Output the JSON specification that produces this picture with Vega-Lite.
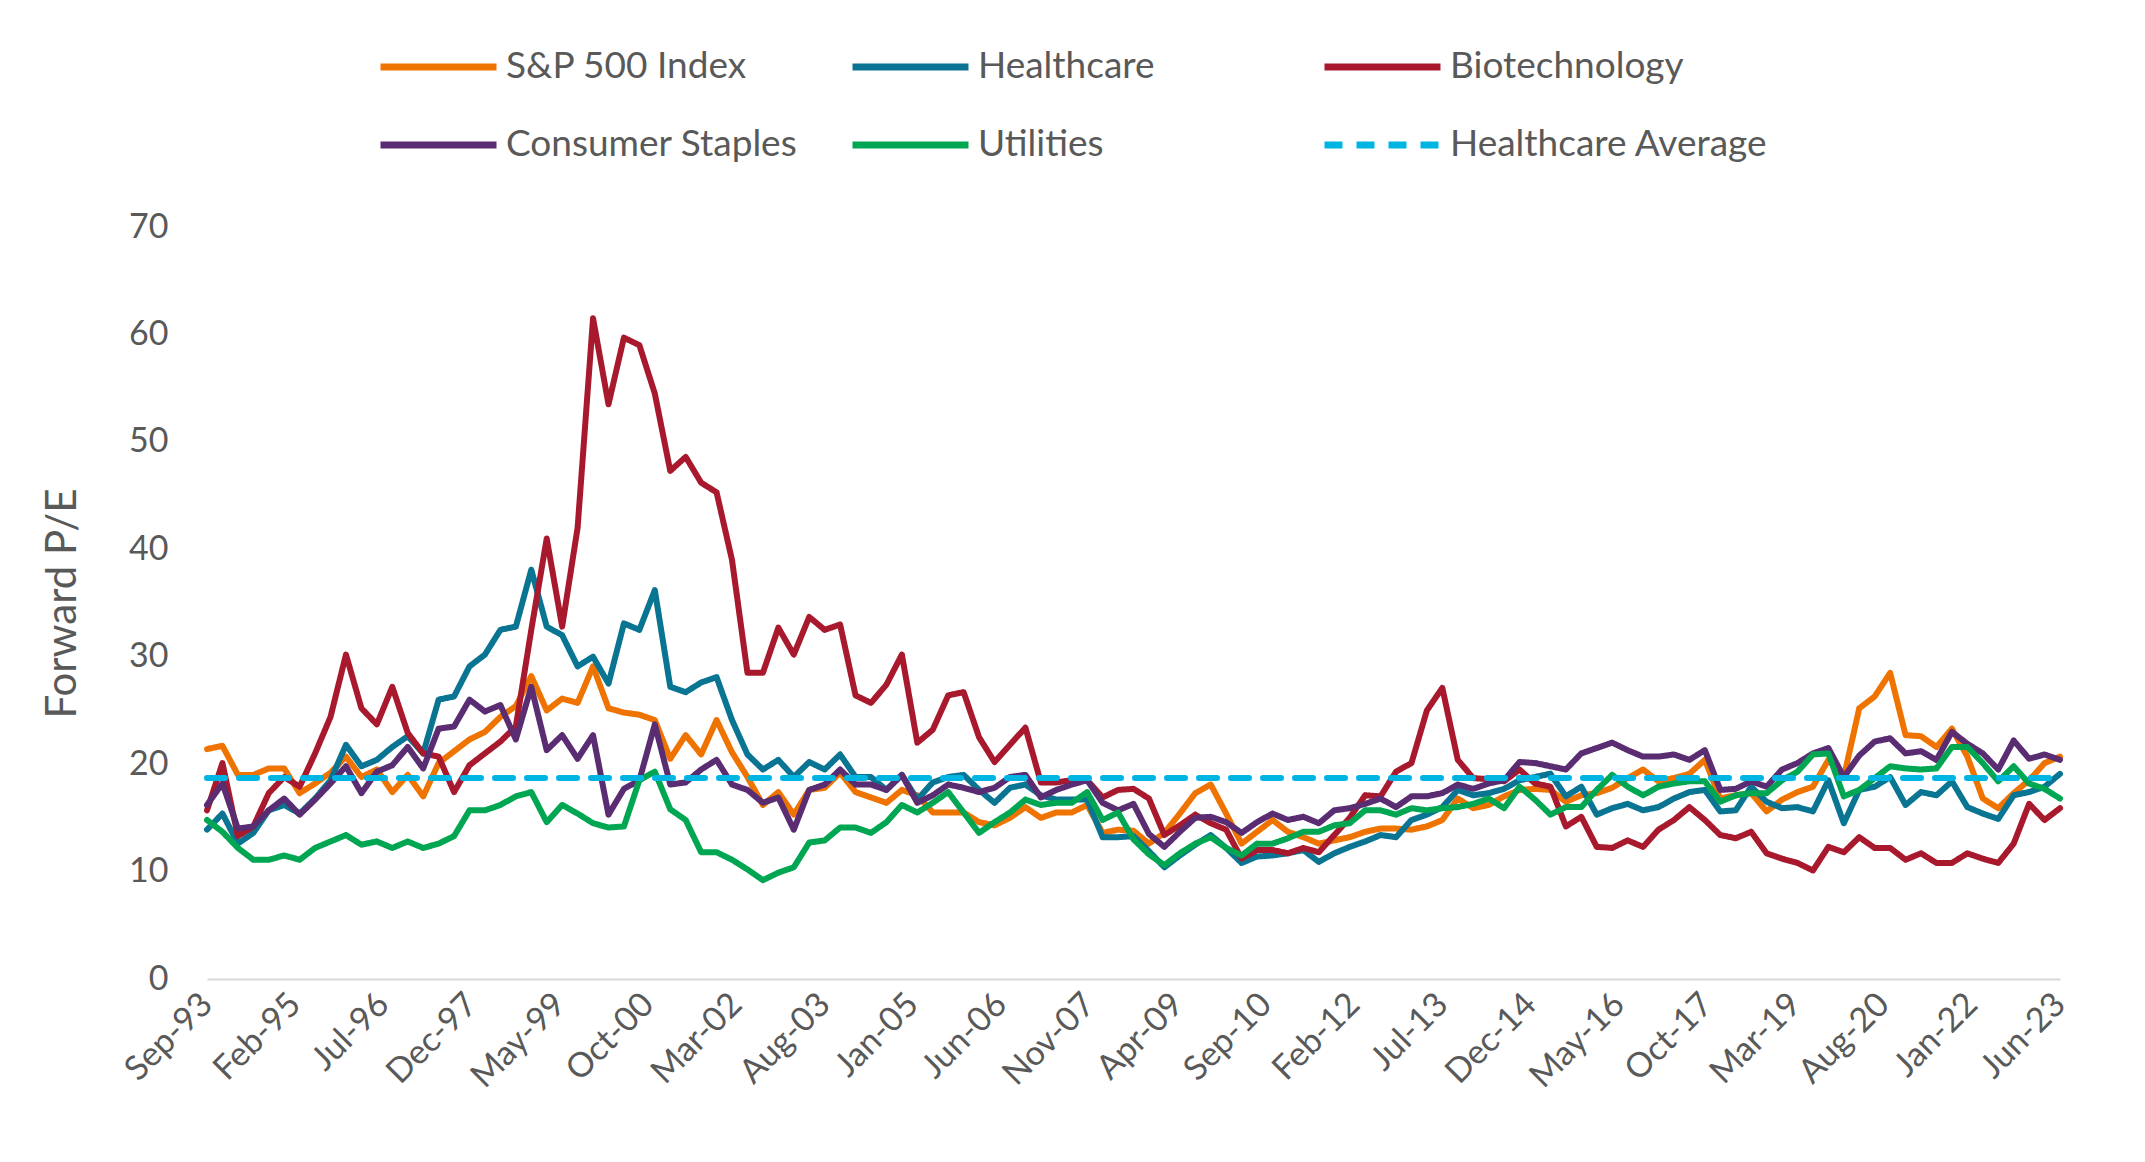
{
"$schema": "https://vega.github.io/schema/vega-lite/v6.json",
"width": 1853, "height": 752,
"autosize": {"type": "none"},
"padding": {"left": 207, "top": 227, "right": 85, "bottom": 183},
"background": "white",
"config": {"view": {"stroke": null}, "font": "Lato"},
"datasets": {"pe": [
{"series":"S&P 500 Index","q":0,"pe":21.4},{"series":"S&P 500 Index","q":1,"pe":21.7},{"series":"S&P 500 Index","q":2,"pe":19.0},{"series":"S&P 500 Index","q":3,"pe":19.0},{"series":"S&P 500 Index","q":4,"pe":19.6},{"series":"S&P 500 Index","q":5,"pe":19.6},{"series":"S&P 500 Index","q":6,"pe":17.3},{"series":"S&P 500 Index","q":7,"pe":18.2},{"series":"S&P 500 Index","q":8,"pe":19.2},{"series":"S&P 500 Index","q":9,"pe":20.7},
{"series":"S&P 500 Index","q":10,"pe":18.8},{"series":"S&P 500 Index","q":11,"pe":19.5},{"series":"S&P 500 Index","q":12,"pe":17.4},{"series":"S&P 500 Index","q":13,"pe":19.0},{"series":"S&P 500 Index","q":14,"pe":17.0},{"series":"S&P 500 Index","q":15,"pe":20.1},{"series":"S&P 500 Index","q":16,"pe":21.2},{"series":"S&P 500 Index","q":17,"pe":22.3},{"series":"S&P 500 Index","q":18,"pe":23.0},{"series":"S&P 500 Index","q":19,"pe":24.4},
{"series":"S&P 500 Index","q":20,"pe":25.4},{"series":"S&P 500 Index","q":21,"pe":28.2},{"series":"S&P 500 Index","q":22,"pe":25.0},{"series":"S&P 500 Index","q":23,"pe":26.1},{"series":"S&P 500 Index","q":24,"pe":25.7},{"series":"S&P 500 Index","q":25,"pe":29.1},{"series":"S&P 500 Index","q":26,"pe":25.2},{"series":"S&P 500 Index","q":27,"pe":24.8},{"series":"S&P 500 Index","q":28,"pe":24.6},{"series":"S&P 500 Index","q":29,"pe":24.1},
{"series":"S&P 500 Index","q":30,"pe":20.5},{"series":"S&P 500 Index","q":31,"pe":22.7},{"series":"S&P 500 Index","q":32,"pe":20.9},{"series":"S&P 500 Index","q":33,"pe":24.1},{"series":"S&P 500 Index","q":34,"pe":21.1},{"series":"S&P 500 Index","q":35,"pe":18.8},{"series":"S&P 500 Index","q":36,"pe":16.2},{"series":"S&P 500 Index","q":37,"pe":17.4},{"series":"S&P 500 Index","q":38,"pe":15.3},{"series":"S&P 500 Index","q":39,"pe":17.6},
{"series":"S&P 500 Index","q":40,"pe":17.8},{"series":"S&P 500 Index","q":41,"pe":19.2},{"series":"S&P 500 Index","q":42,"pe":17.4},{"series":"S&P 500 Index","q":43,"pe":16.9},{"series":"S&P 500 Index","q":44,"pe":16.4},{"series":"S&P 500 Index","q":45,"pe":17.6},{"series":"S&P 500 Index","q":46,"pe":17.1},{"series":"S&P 500 Index","q":47,"pe":15.5},{"series":"S&P 500 Index","q":48,"pe":15.5},{"series":"S&P 500 Index","q":49,"pe":15.5},
{"series":"S&P 500 Index","q":50,"pe":14.6},{"series":"S&P 500 Index","q":51,"pe":14.3},{"series":"S&P 500 Index","q":52,"pe":15.0},{"series":"S&P 500 Index","q":53,"pe":16.0},{"series":"S&P 500 Index","q":54,"pe":15.0},{"series":"S&P 500 Index","q":55,"pe":15.5},{"series":"S&P 500 Index","q":56,"pe":15.5},{"series":"S&P 500 Index","q":57,"pe":16.2},{"series":"S&P 500 Index","q":58,"pe":13.6},{"series":"S&P 500 Index","q":59,"pe":13.9},
{"series":"S&P 500 Index","q":60,"pe":13.8},{"series":"S&P 500 Index","q":61,"pe":12.6},{"series":"S&P 500 Index","q":62,"pe":13.6},{"series":"S&P 500 Index","q":63,"pe":15.4},{"series":"S&P 500 Index","q":64,"pe":17.3},{"series":"S&P 500 Index","q":65,"pe":18.1},{"series":"S&P 500 Index","q":66,"pe":15.4},{"series":"S&P 500 Index","q":67,"pe":12.6},{"series":"S&P 500 Index","q":68,"pe":13.7},{"series":"S&P 500 Index","q":69,"pe":14.8},
{"series":"S&P 500 Index","q":70,"pe":13.7},{"series":"S&P 500 Index","q":71,"pe":13.2},{"series":"S&P 500 Index","q":72,"pe":12.6},{"series":"S&P 500 Index","q":73,"pe":12.9},{"series":"S&P 500 Index","q":74,"pe":13.2},{"series":"S&P 500 Index","q":75,"pe":13.7},{"series":"S&P 500 Index","q":76,"pe":14.0},{"series":"S&P 500 Index","q":77,"pe":14.0},{"series":"S&P 500 Index","q":78,"pe":13.9},{"series":"S&P 500 Index","q":79,"pe":14.2},
{"series":"S&P 500 Index","q":80,"pe":14.8},{"series":"S&P 500 Index","q":81,"pe":16.8},{"series":"S&P 500 Index","q":82,"pe":15.9},{"series":"S&P 500 Index","q":83,"pe":16.2},{"series":"S&P 500 Index","q":84,"pe":17.0},{"series":"S&P 500 Index","q":85,"pe":17.6},{"series":"S&P 500 Index","q":86,"pe":17.7},{"series":"S&P 500 Index","q":87,"pe":17.6},{"series":"S&P 500 Index","q":88,"pe":16.5},{"series":"S&P 500 Index","q":89,"pe":17.1},
{"series":"S&P 500 Index","q":90,"pe":17.3},{"series":"S&P 500 Index","q":91,"pe":17.8},{"series":"S&P 500 Index","q":92,"pe":18.7},{"series":"S&P 500 Index","q":93,"pe":19.5},{"series":"S&P 500 Index","q":94,"pe":18.4},{"series":"S&P 500 Index","q":95,"pe":18.7},{"series":"S&P 500 Index","q":96,"pe":19.1},{"series":"S&P 500 Index","q":97,"pe":20.4},{"series":"S&P 500 Index","q":98,"pe":16.8},{"series":"S&P 500 Index","q":99,"pe":17.1},
{"series":"S&P 500 Index","q":100,"pe":17.3},{"series":"S&P 500 Index","q":101,"pe":15.6},{"series":"S&P 500 Index","q":102,"pe":16.7},{"series":"S&P 500 Index","q":103,"pe":17.4},{"series":"S&P 500 Index","q":104,"pe":17.9},{"series":"S&P 500 Index","q":105,"pe":20.4},{"series":"S&P 500 Index","q":106,"pe":18.8},{"series":"S&P 500 Index","q":107,"pe":25.2},{"series":"S&P 500 Index","q":108,"pe":26.3},{"series":"S&P 500 Index","q":109,"pe":28.5},
{"series":"S&P 500 Index","q":110,"pe":22.7},{"series":"S&P 500 Index","q":111,"pe":22.6},{"series":"S&P 500 Index","q":112,"pe":21.6},{"series":"S&P 500 Index","q":113,"pe":23.3},{"series":"S&P 500 Index","q":114,"pe":20.7},{"series":"S&P 500 Index","q":115,"pe":16.8},{"series":"S&P 500 Index","q":116,"pe":15.9},{"series":"S&P 500 Index","q":117,"pe":17.3},{"series":"S&P 500 Index","q":118,"pe":18.5},{"series":"S&P 500 Index","q":119,"pe":20.1},
{"series":"S&P 500 Index","q":120,"pe":20.7},
{"series":"Healthcare","q":0,"pe":13.9},{"series":"Healthcare","q":1,"pe":15.4},{"series":"Healthcare","q":2,"pe":12.6},{"series":"Healthcare","q":3,"pe":13.6},{"series":"Healthcare","q":4,"pe":15.7},{"series":"Healthcare","q":5,"pe":16.2},{"series":"Healthcare","q":6,"pe":15.4},{"series":"Healthcare","q":7,"pe":16.8},{"series":"Healthcare","q":8,"pe":18.5},{"series":"Healthcare","q":9,"pe":21.8},
{"series":"Healthcare","q":10,"pe":19.8},{"series":"Healthcare","q":11,"pe":20.4},{"series":"Healthcare","q":12,"pe":21.6},{"series":"Healthcare","q":13,"pe":22.6},{"series":"Healthcare","q":14,"pe":21.0},{"series":"Healthcare","q":15,"pe":26.0},{"series":"Healthcare","q":16,"pe":26.3},{"series":"Healthcare","q":17,"pe":29.1},{"series":"Healthcare","q":18,"pe":30.2},{"series":"Healthcare","q":19,"pe":32.5},
{"series":"Healthcare","q":20,"pe":32.8},{"series":"Healthcare","q":21,"pe":38.1},{"series":"Healthcare","q":22,"pe":32.8},{"series":"Healthcare","q":23,"pe":32.0},{"series":"Healthcare","q":24,"pe":29.1},{"series":"Healthcare","q":25,"pe":30.0},{"series":"Healthcare","q":26,"pe":27.5},{"series":"Healthcare","q":27,"pe":33.1},{"series":"Healthcare","q":28,"pe":32.5},{"series":"Healthcare","q":29,"pe":36.2},
{"series":"Healthcare","q":30,"pe":27.2},{"series":"Healthcare","q":31,"pe":26.7},{"series":"Healthcare","q":32,"pe":27.6},{"series":"Healthcare","q":33,"pe":28.1},{"series":"Healthcare","q":34,"pe":24.1},{"series":"Healthcare","q":35,"pe":20.9},{"series":"Healthcare","q":36,"pe":19.5},{"series":"Healthcare","q":37,"pe":20.4},{"series":"Healthcare","q":38,"pe":18.8},{"series":"Healthcare","q":39,"pe":20.2},
{"series":"Healthcare","q":40,"pe":19.5},{"series":"Healthcare","q":41,"pe":20.9},{"series":"Healthcare","q":42,"pe":18.8},{"series":"Healthcare","q":43,"pe":18.8},{"series":"Healthcare","q":44,"pe":17.6},{"series":"Healthcare","q":45,"pe":19.0},{"series":"Healthcare","q":46,"pe":16.7},{"series":"Healthcare","q":47,"pe":18.3},{"series":"Healthcare","q":48,"pe":18.8},{"series":"Healthcare","q":49,"pe":19.0},
{"series":"Healthcare","q":50,"pe":17.6},{"series":"Healthcare","q":51,"pe":16.4},{"series":"Healthcare","q":52,"pe":17.8},{"series":"Healthcare","q":53,"pe":18.1},{"series":"Healthcare","q":54,"pe":17.1},{"series":"Healthcare","q":55,"pe":16.7},{"series":"Healthcare","q":56,"pe":16.7},{"series":"Healthcare","q":57,"pe":16.7},{"series":"Healthcare","q":58,"pe":13.2},{"series":"Healthcare","q":59,"pe":13.2},
{"series":"Healthcare","q":60,"pe":13.3},{"series":"Healthcare","q":61,"pe":11.9},{"series":"Healthcare","q":62,"pe":10.4},{"series":"Healthcare","q":63,"pe":11.5},{"series":"Healthcare","q":64,"pe":12.5},{"series":"Healthcare","q":65,"pe":13.4},{"series":"Healthcare","q":66,"pe":12.2},{"series":"Healthcare","q":67,"pe":10.8},{"series":"Healthcare","q":68,"pe":11.4},{"series":"Healthcare","q":69,"pe":11.5},
{"series":"Healthcare","q":70,"pe":11.7},{"series":"Healthcare","q":71,"pe":12.0},{"series":"Healthcare","q":72,"pe":10.9},{"series":"Healthcare","q":73,"pe":11.7},{"series":"Healthcare","q":74,"pe":12.3},{"series":"Healthcare","q":75,"pe":12.8},{"series":"Healthcare","q":76,"pe":13.4},{"series":"Healthcare","q":77,"pe":13.2},{"series":"Healthcare","q":78,"pe":14.8},{"series":"Healthcare","q":79,"pe":15.3},
{"series":"Healthcare","q":80,"pe":16.0},{"series":"Healthcare","q":81,"pe":17.6},{"series":"Healthcare","q":82,"pe":17.1},{"series":"Healthcare","q":83,"pe":17.3},{"series":"Healthcare","q":84,"pe":17.7},{"series":"Healthcare","q":85,"pe":18.5},{"series":"Healthcare","q":86,"pe":18.8},{"series":"Healthcare","q":87,"pe":19.1},{"series":"Healthcare","q":88,"pe":17.0},{"series":"Healthcare","q":89,"pe":17.9},
{"series":"Healthcare","q":90,"pe":15.3},{"series":"Healthcare","q":91,"pe":15.9},{"series":"Healthcare","q":92,"pe":16.3},{"series":"Healthcare","q":93,"pe":15.7},{"series":"Healthcare","q":94,"pe":16.0},{"series":"Healthcare","q":95,"pe":16.8},{"series":"Healthcare","q":96,"pe":17.4},{"series":"Healthcare","q":97,"pe":17.6},{"series":"Healthcare","q":98,"pe":15.6},{"series":"Healthcare","q":99,"pe":15.7},
{"series":"Healthcare","q":100,"pe":17.9},{"series":"Healthcare","q":101,"pe":16.5},{"series":"Healthcare","q":102,"pe":15.9},{"series":"Healthcare","q":103,"pe":16.0},{"series":"Healthcare","q":104,"pe":15.6},{"series":"Healthcare","q":105,"pe":18.5},{"series":"Healthcare","q":106,"pe":14.5},{"series":"Healthcare","q":107,"pe":17.6},{"series":"Healthcare","q":108,"pe":17.9},{"series":"Healthcare","q":109,"pe":18.8},
{"series":"Healthcare","q":110,"pe":16.2},{"series":"Healthcare","q":111,"pe":17.4},{"series":"Healthcare","q":112,"pe":17.1},{"series":"Healthcare","q":113,"pe":18.4},{"series":"Healthcare","q":114,"pe":16.0},{"series":"Healthcare","q":115,"pe":15.4},{"series":"Healthcare","q":116,"pe":14.9},{"series":"Healthcare","q":117,"pe":17.1},{"series":"Healthcare","q":118,"pe":17.4},{"series":"Healthcare","q":119,"pe":17.9},
{"series":"Healthcare","q":120,"pe":19.1},
{"series":"Biotechnology","q":0,"pe":15.7},{"series":"Biotechnology","q":1,"pe":20.1},{"series":"Biotechnology","q":2,"pe":13.3},{"series":"Biotechnology","q":3,"pe":14.2},{"series":"Biotechnology","q":4,"pe":17.3},{"series":"Biotechnology","q":5,"pe":18.8},{"series":"Biotechnology","q":6,"pe":17.9},{"series":"Biotechnology","q":7,"pe":21.0},{"series":"Biotechnology","q":8,"pe":24.4},{"series":"Biotechnology","q":9,"pe":30.2},
{"series":"Biotechnology","q":10,"pe":25.2},{"series":"Biotechnology","q":11,"pe":23.7},{"series":"Biotechnology","q":12,"pe":27.2},{"series":"Biotechnology","q":13,"pe":22.9},{"series":"Biotechnology","q":14,"pe":21.0},{"series":"Biotechnology","q":15,"pe":20.7},{"series":"Biotechnology","q":16,"pe":17.4},{"series":"Biotechnology","q":17,"pe":19.9},{"series":"Biotechnology","q":18,"pe":21.0},{"series":"Biotechnology","q":19,"pe":22.1},
{"series":"Biotechnology","q":20,"pe":23.5},{"series":"Biotechnology","q":21,"pe":32.5},{"series":"Biotechnology","q":22,"pe":41.0},{"series":"Biotechnology","q":23,"pe":32.8},{"series":"Biotechnology","q":24,"pe":42.0},{"series":"Biotechnology","q":25,"pe":61.5},{"series":"Biotechnology","q":26,"pe":53.5},{"series":"Biotechnology","q":27,"pe":59.7},{"series":"Biotechnology","q":28,"pe":59.0},{"series":"Biotechnology","q":29,"pe":54.5},
{"series":"Biotechnology","q":30,"pe":47.3},{"series":"Biotechnology","q":31,"pe":48.6},{"series":"Biotechnology","q":32,"pe":46.2},{"series":"Biotechnology","q":33,"pe":45.3},{"series":"Biotechnology","q":34,"pe":39.0},{"series":"Biotechnology","q":35,"pe":28.5},{"series":"Biotechnology","q":36,"pe":28.5},{"series":"Biotechnology","q":37,"pe":32.7},{"series":"Biotechnology","q":38,"pe":30.2},{"series":"Biotechnology","q":39,"pe":33.7},
{"series":"Biotechnology","q":40,"pe":32.5},{"series":"Biotechnology","q":41,"pe":33.0},{"series":"Biotechnology","q":42,"pe":26.4},{"series":"Biotechnology","q":43,"pe":25.7},{"series":"Biotechnology","q":44,"pe":27.4},{"series":"Biotechnology","q":45,"pe":30.2},{"series":"Biotechnology","q":46,"pe":22.0},{"series":"Biotechnology","q":47,"pe":23.2},{"series":"Biotechnology","q":48,"pe":26.4},{"series":"Biotechnology","q":49,"pe":26.7},
{"series":"Biotechnology","q":50,"pe":22.5},{"series":"Biotechnology","q":51,"pe":20.2},{"series":"Biotechnology","q":52,"pe":21.8},{"series":"Biotechnology","q":53,"pe":23.4},{"series":"Biotechnology","q":54,"pe":18.3},{"series":"Biotechnology","q":55,"pe":18.3},{"series":"Biotechnology","q":56,"pe":18.5},{"series":"Biotechnology","q":57,"pe":18.5},{"series":"Biotechnology","q":58,"pe":16.9},{"series":"Biotechnology","q":59,"pe":17.6},
{"series":"Biotechnology","q":60,"pe":17.7},{"series":"Biotechnology","q":61,"pe":16.8},{"series":"Biotechnology","q":62,"pe":13.4},{"series":"Biotechnology","q":63,"pe":14.3},{"series":"Biotechnology","q":64,"pe":15.3},{"series":"Biotechnology","q":65,"pe":14.5},{"series":"Biotechnology","q":66,"pe":13.9},{"series":"Biotechnology","q":67,"pe":11.2},{"series":"Biotechnology","q":68,"pe":12.0},{"series":"Biotechnology","q":69,"pe":12.0},
{"series":"Biotechnology","q":70,"pe":11.7},{"series":"Biotechnology","q":71,"pe":12.2},{"series":"Biotechnology","q":72,"pe":11.8},{"series":"Biotechnology","q":73,"pe":13.4},{"series":"Biotechnology","q":74,"pe":15.0},{"series":"Biotechnology","q":75,"pe":17.1},{"series":"Biotechnology","q":76,"pe":17.0},{"series":"Biotechnology","q":77,"pe":19.3},{"series":"Biotechnology","q":78,"pe":20.1},{"series":"Biotechnology","q":79,"pe":25.0},
{"series":"Biotechnology","q":80,"pe":27.1},{"series":"Biotechnology","q":81,"pe":20.4},{"series":"Biotechnology","q":82,"pe":18.7},{"series":"Biotechnology","q":83,"pe":18.6},{"series":"Biotechnology","q":84,"pe":18.4},{"series":"Biotechnology","q":85,"pe":19.5},{"series":"Biotechnology","q":86,"pe":18.2},{"series":"Biotechnology","q":87,"pe":17.9},{"series":"Biotechnology","q":88,"pe":14.2},{"series":"Biotechnology","q":89,"pe":15.1},
{"series":"Biotechnology","q":90,"pe":12.3},{"series":"Biotechnology","q":91,"pe":12.2},{"series":"Biotechnology","q":92,"pe":12.9},{"series":"Biotechnology","q":93,"pe":12.3},{"series":"Biotechnology","q":94,"pe":13.9},{"series":"Biotechnology","q":95,"pe":14.8},{"series":"Biotechnology","q":96,"pe":16.0},{"series":"Biotechnology","q":97,"pe":14.8},{"series":"Biotechnology","q":98,"pe":13.4},{"series":"Biotechnology","q":99,"pe":13.1},
{"series":"Biotechnology","q":100,"pe":13.7},{"series":"Biotechnology","q":101,"pe":11.7},{"series":"Biotechnology","q":102,"pe":11.2},{"series":"Biotechnology","q":103,"pe":10.8},{"series":"Biotechnology","q":104,"pe":10.1},{"series":"Biotechnology","q":105,"pe":12.3},{"series":"Biotechnology","q":106,"pe":11.8},{"series":"Biotechnology","q":107,"pe":13.2},{"series":"Biotechnology","q":108,"pe":12.2},{"series":"Biotechnology","q":109,"pe":12.2},
{"series":"Biotechnology","q":110,"pe":11.1},{"series":"Biotechnology","q":111,"pe":11.7},{"series":"Biotechnology","q":112,"pe":10.8},{"series":"Biotechnology","q":113,"pe":10.8},{"series":"Biotechnology","q":114,"pe":11.7},{"series":"Biotechnology","q":115,"pe":11.2},{"series":"Biotechnology","q":116,"pe":10.8},{"series":"Biotechnology","q":117,"pe":12.6},{"series":"Biotechnology","q":118,"pe":16.3},{"series":"Biotechnology","q":119,"pe":14.8},
{"series":"Biotechnology","q":120,"pe":15.9},
{"series":"Consumer Staples","q":0,"pe":16.2},{"series":"Consumer Staples","q":1,"pe":18.2},{"series":"Consumer Staples","q":2,"pe":14.0},{"series":"Consumer Staples","q":3,"pe":14.2},{"series":"Consumer Staples","q":4,"pe":15.7},{"series":"Consumer Staples","q":5,"pe":16.8},{"series":"Consumer Staples","q":6,"pe":15.3},{"series":"Consumer Staples","q":7,"pe":16.7},{"series":"Consumer Staples","q":8,"pe":18.2},{"series":"Consumer Staples","q":9,"pe":19.8},
{"series":"Consumer Staples","q":10,"pe":17.3},{"series":"Consumer Staples","q":11,"pe":19.3},{"series":"Consumer Staples","q":12,"pe":19.9},{"series":"Consumer Staples","q":13,"pe":21.6},{"series":"Consumer Staples","q":14,"pe":19.6},{"series":"Consumer Staples","q":15,"pe":23.3},{"series":"Consumer Staples","q":16,"pe":23.5},{"series":"Consumer Staples","q":17,"pe":26.0},{"series":"Consumer Staples","q":18,"pe":24.9},{"series":"Consumer Staples","q":19,"pe":25.5},
{"series":"Consumer Staples","q":20,"pe":22.3},{"series":"Consumer Staples","q":21,"pe":27.2},{"series":"Consumer Staples","q":22,"pe":21.3},{"series":"Consumer Staples","q":23,"pe":22.7},{"series":"Consumer Staples","q":24,"pe":20.5},{"series":"Consumer Staples","q":25,"pe":22.7},{"series":"Consumer Staples","q":26,"pe":15.3},{"series":"Consumer Staples","q":27,"pe":17.7},{"series":"Consumer Staples","q":28,"pe":18.5},{"series":"Consumer Staples","q":29,"pe":23.7},
{"series":"Consumer Staples","q":30,"pe":18.1},{"series":"Consumer Staples","q":31,"pe":18.3},{"series":"Consumer Staples","q":32,"pe":19.5},{"series":"Consumer Staples","q":33,"pe":20.4},{"series":"Consumer Staples","q":34,"pe":18.1},{"series":"Consumer Staples","q":35,"pe":17.6},{"series":"Consumer Staples","q":36,"pe":16.4},{"series":"Consumer Staples","q":37,"pe":16.9},{"series":"Consumer Staples","q":38,"pe":13.9},{"series":"Consumer Staples","q":39,"pe":17.6},
{"series":"Consumer Staples","q":40,"pe":18.1},{"series":"Consumer Staples","q":41,"pe":19.5},{"series":"Consumer Staples","q":42,"pe":18.1},{"series":"Consumer Staples","q":43,"pe":18.1},{"series":"Consumer Staples","q":44,"pe":17.6},{"series":"Consumer Staples","q":45,"pe":19.0},{"series":"Consumer Staples","q":46,"pe":16.4},{"series":"Consumer Staples","q":47,"pe":17.1},{"series":"Consumer Staples","q":48,"pe":18.1},{"series":"Consumer Staples","q":49,"pe":17.8},
{"series":"Consumer Staples","q":50,"pe":17.4},{"series":"Consumer Staples","q":51,"pe":17.8},{"series":"Consumer Staples","q":52,"pe":18.8},{"series":"Consumer Staples","q":53,"pe":19.0},{"series":"Consumer Staples","q":54,"pe":16.9},{"series":"Consumer Staples","q":55,"pe":17.6},{"series":"Consumer Staples","q":56,"pe":18.1},{"series":"Consumer Staples","q":57,"pe":18.5},{"series":"Consumer Staples","q":58,"pe":16.4},{"series":"Consumer Staples","q":59,"pe":15.7},
{"series":"Consumer Staples","q":60,"pe":16.3},{"series":"Consumer Staples","q":61,"pe":13.5},{"series":"Consumer Staples","q":62,"pe":12.3},{"series":"Consumer Staples","q":63,"pe":13.7},{"series":"Consumer Staples","q":64,"pe":15.0},{"series":"Consumer Staples","q":65,"pe":15.1},{"series":"Consumer Staples","q":66,"pe":14.6},{"series":"Consumer Staples","q":67,"pe":13.6},{"series":"Consumer Staples","q":68,"pe":14.6},{"series":"Consumer Staples","q":69,"pe":15.4},
{"series":"Consumer Staples","q":70,"pe":14.8},{"series":"Consumer Staples","q":71,"pe":15.1},{"series":"Consumer Staples","q":72,"pe":14.5},{"series":"Consumer Staples","q":73,"pe":15.7},{"series":"Consumer Staples","q":74,"pe":15.9},{"series":"Consumer Staples","q":75,"pe":16.3},{"series":"Consumer Staples","q":76,"pe":16.8},{"series":"Consumer Staples","q":77,"pe":16.0},{"series":"Consumer Staples","q":78,"pe":17.0},{"series":"Consumer Staples","q":79,"pe":17.0},
{"series":"Consumer Staples","q":80,"pe":17.3},{"series":"Consumer Staples","q":81,"pe":18.1},{"series":"Consumer Staples","q":82,"pe":17.7},{"series":"Consumer Staples","q":83,"pe":18.2},{"series":"Consumer Staples","q":84,"pe":18.5},{"series":"Consumer Staples","q":85,"pe":20.2},{"series":"Consumer Staples","q":86,"pe":20.1},{"series":"Consumer Staples","q":87,"pe":19.8},{"series":"Consumer Staples","q":88,"pe":19.5},{"series":"Consumer Staples","q":89,"pe":21.0},
{"series":"Consumer Staples","q":90,"pe":21.5},{"series":"Consumer Staples","q":91,"pe":22.0},{"series":"Consumer Staples","q":92,"pe":21.3},{"series":"Consumer Staples","q":93,"pe":20.7},{"series":"Consumer Staples","q":94,"pe":20.7},{"series":"Consumer Staples","q":95,"pe":20.9},{"series":"Consumer Staples","q":96,"pe":20.4},{"series":"Consumer Staples","q":97,"pe":21.3},{"series":"Consumer Staples","q":98,"pe":17.6},{"series":"Consumer Staples","q":99,"pe":17.7},
{"series":"Consumer Staples","q":100,"pe":18.4},{"series":"Consumer Staples","q":101,"pe":17.9},{"series":"Consumer Staples","q":102,"pe":19.5},{"series":"Consumer Staples","q":103,"pe":20.1},{"series":"Consumer Staples","q":104,"pe":21.0},{"series":"Consumer Staples","q":105,"pe":21.5},{"series":"Consumer Staples","q":106,"pe":18.8},{"series":"Consumer Staples","q":107,"pe":20.8},{"series":"Consumer Staples","q":108,"pe":22.1},{"series":"Consumer Staples","q":109,"pe":22.4},
{"series":"Consumer Staples","q":110,"pe":21.0},{"series":"Consumer Staples","q":111,"pe":21.2},{"series":"Consumer Staples","q":112,"pe":20.4},{"series":"Consumer Staples","q":113,"pe":23.0},{"series":"Consumer Staples","q":114,"pe":21.9},{"series":"Consumer Staples","q":115,"pe":21.0},{"series":"Consumer Staples","q":116,"pe":19.5},{"series":"Consumer Staples","q":117,"pe":22.2},{"series":"Consumer Staples","q":118,"pe":20.5},{"series":"Consumer Staples","q":119,"pe":20.9},
{"series":"Consumer Staples","q":120,"pe":20.4},
{"series":"Utilities","q":0,"pe":14.8},{"series":"Utilities","q":1,"pe":13.7},{"series":"Utilities","q":2,"pe":12.2},{"series":"Utilities","q":3,"pe":11.1},{"series":"Utilities","q":4,"pe":11.1},{"series":"Utilities","q":5,"pe":11.5},{"series":"Utilities","q":6,"pe":11.1},{"series":"Utilities","q":7,"pe":12.2},{"series":"Utilities","q":8,"pe":12.8},{"series":"Utilities","q":9,"pe":13.4},
{"series":"Utilities","q":10,"pe":12.5},{"series":"Utilities","q":11,"pe":12.8},{"series":"Utilities","q":12,"pe":12.2},{"series":"Utilities","q":13,"pe":12.8},{"series":"Utilities","q":14,"pe":12.2},{"series":"Utilities","q":15,"pe":12.6},{"series":"Utilities","q":16,"pe":13.3},{"series":"Utilities","q":17,"pe":15.7},{"series":"Utilities","q":18,"pe":15.7},{"series":"Utilities","q":19,"pe":16.2},
{"series":"Utilities","q":20,"pe":17.0},{"series":"Utilities","q":21,"pe":17.4},{"series":"Utilities","q":22,"pe":14.6},{"series":"Utilities","q":23,"pe":16.2},{"series":"Utilities","q":24,"pe":15.4},{"series":"Utilities","q":25,"pe":14.5},{"series":"Utilities","q":26,"pe":14.1},{"series":"Utilities","q":27,"pe":14.2},{"series":"Utilities","q":28,"pe":18.5},{"series":"Utilities","q":29,"pe":19.3},
{"series":"Utilities","q":30,"pe":15.8},{"series":"Utilities","q":31,"pe":14.8},{"series":"Utilities","q":32,"pe":11.8},{"series":"Utilities","q":33,"pe":11.8},{"series":"Utilities","q":34,"pe":11.1},{"series":"Utilities","q":35,"pe":10.2},{"series":"Utilities","q":36,"pe":9.2},{"series":"Utilities","q":37,"pe":9.9},{"series":"Utilities","q":38,"pe":10.4},{"series":"Utilities","q":39,"pe":12.7},
{"series":"Utilities","q":40,"pe":12.9},{"series":"Utilities","q":41,"pe":14.1},{"series":"Utilities","q":42,"pe":14.1},{"series":"Utilities","q":43,"pe":13.6},{"series":"Utilities","q":44,"pe":14.6},{"series":"Utilities","q":45,"pe":16.2},{"series":"Utilities","q":46,"pe":15.5},{"series":"Utilities","q":47,"pe":16.4},{"series":"Utilities","q":48,"pe":17.4},{"series":"Utilities","q":49,"pe":15.5},
{"series":"Utilities","q":50,"pe":13.6},{"series":"Utilities","q":51,"pe":14.6},{"series":"Utilities","q":52,"pe":15.5},{"series":"Utilities","q":53,"pe":16.7},{"series":"Utilities","q":54,"pe":16.2},{"series":"Utilities","q":55,"pe":16.4},{"series":"Utilities","q":56,"pe":16.4},{"series":"Utilities","q":57,"pe":17.4},{"series":"Utilities","q":58,"pe":14.8},{"series":"Utilities","q":59,"pe":15.5},
{"series":"Utilities","q":60,"pe":13.0},{"series":"Utilities","q":61,"pe":11.6},{"series":"Utilities","q":62,"pe":10.6},{"series":"Utilities","q":63,"pe":11.7},{"series":"Utilities","q":64,"pe":12.6},{"series":"Utilities","q":65,"pe":13.2},{"series":"Utilities","q":66,"pe":12.2},{"series":"Utilities","q":67,"pe":11.5},{"series":"Utilities","q":68,"pe":12.6},{"series":"Utilities","q":69,"pe":12.6},
{"series":"Utilities","q":70,"pe":13.1},{"series":"Utilities","q":71,"pe":13.7},{"series":"Utilities","q":72,"pe":13.7},{"series":"Utilities","q":73,"pe":14.3},{"series":"Utilities","q":74,"pe":14.5},{"series":"Utilities","q":75,"pe":15.7},{"series":"Utilities","q":76,"pe":15.7},{"series":"Utilities","q":77,"pe":15.3},{"series":"Utilities","q":78,"pe":15.9},{"series":"Utilities","q":79,"pe":15.7},
{"series":"Utilities","q":80,"pe":15.9},{"series":"Utilities","q":81,"pe":16.0},{"series":"Utilities","q":82,"pe":16.3},{"series":"Utilities","q":83,"pe":16.8},{"series":"Utilities","q":84,"pe":15.9},{"series":"Utilities","q":85,"pe":17.9},{"series":"Utilities","q":86,"pe":16.7},{"series":"Utilities","q":87,"pe":15.3},{"series":"Utilities","q":88,"pe":16.0},{"series":"Utilities","q":89,"pe":16.0},
{"series":"Utilities","q":90,"pe":17.6},{"series":"Utilities","q":91,"pe":19.0},{"series":"Utilities","q":92,"pe":17.9},{"series":"Utilities","q":93,"pe":17.1},{"series":"Utilities","q":94,"pe":17.9},{"series":"Utilities","q":95,"pe":18.2},{"series":"Utilities","q":96,"pe":18.4},{"series":"Utilities","q":97,"pe":18.4},{"series":"Utilities","q":98,"pe":16.5},{"series":"Utilities","q":99,"pe":17.1},
{"series":"Utilities","q":100,"pe":17.3},{"series":"Utilities","q":101,"pe":17.3},{"series":"Utilities","q":102,"pe":18.5},{"series":"Utilities","q":103,"pe":19.3},{"series":"Utilities","q":104,"pe":20.9},{"series":"Utilities","q":105,"pe":21.0},{"series":"Utilities","q":106,"pe":17.0},{"series":"Utilities","q":107,"pe":17.6},{"series":"Utilities","q":108,"pe":18.7},{"series":"Utilities","q":109,"pe":19.8},
{"series":"Utilities","q":110,"pe":19.6},{"series":"Utilities","q":111,"pe":19.5},{"series":"Utilities","q":112,"pe":19.6},{"series":"Utilities","q":113,"pe":21.6},{"series":"Utilities","q":114,"pe":21.6},{"series":"Utilities","q":115,"pe":20.1},{"series":"Utilities","q":116,"pe":18.4},{"series":"Utilities","q":117,"pe":19.8},{"series":"Utilities","q":118,"pe":18.2},{"series":"Utilities","q":119,"pe":17.7},
{"series":"Utilities","q":120,"pe":16.8},
{"series":"Healthcare Average","q":0,"pe":18.7},{"series":"Healthcare Average","q":120,"pe":18.7}
]},
"data": {"name": "pe"},
"mark": {"type": "line", "strokeWidth": 6, "strokeJoin": "round", "strokeCap": "round"},
"encoding": {
  "x": {"field": "q", "type": "quantitative",
    "scale": {"domain": [0, 120], "nice": false, "zero": false},
    "axis": {"title": null, "grid": false, "ticks": false, "domainColor": "#d9d9d9", "domainWidth": 2,
      "values": [0, 5.7143, 11.4286, 17.1429, 22.8571, 28.5714, 34.2857, 40, 45.7143, 51.4286, 57.1429, 62.8571, 68.5714, 74.2857, 80, 85.7143, 91.4286, 97.1429, 102.8571, 108.5714, 114.2857, 120],
      "labelExpr": "['Sep-93','Feb-95','Jul-96','Dec-97','May-99','Oct-00','Mar-02','Aug-03','Jan-05','Jun-06','Nov-07','Apr-09','Sep-10','Feb-12','Jul-13','Dec-14','May-16','Oct-17','Mar-19','Aug-20','Jan-22','Jun-23'][round(datum.value*21/120)]",
      "labelAngle": -45, "labelAlign": "right", "labelBaseline": "middle", "labelPadding": 20,
      "labelFont": "Lato", "labelFontSize": 34, "labelColor": "#595959", "labelOverlap": false, "labelFlush": false, "labelBound": false}},
  "y": {"field": "pe", "type": "quantitative",
    "scale": {"domain": [0, 70], "nice": false},
    "axis": {"title": "Forward P/E", "grid": false, "ticks": false, "domain": false,
      "values": [0, 10, 20, 30, 40, 50, 60, 70],
      "labelPadding": 39, "labelFont": "Lato", "labelFontSize": 34, "labelColor": "#595959",
      "titleFont": "Lato", "titleFontSize": 42, "titleFontWeight": "normal", "titleColor": "#595959", "titlePadding": 44}},
  "color": {"field": "series", "type": "nominal",
    "scale": {"domain": ["S&P 500 Index", "Healthcare", "Biotechnology", "Consumer Staples", "Utilities", "Healthcare Average"],
      "range": ["#EF7300", "#0A7493", "#A8192E", "#5A2C72", "#00A651", "#00B5E2"]},
    "legend": {"title": null, "orient": "none", "legendX": 170, "legendY": -175, "direction": "horizontal", "columns": 3, "gridAlign": "all",
      "columnPadding": 25, "rowPadding": 41, "clipHeight": 30, "symbolType": "stroke", "symbolSize": 13456, "symbolStrokeWidth": 7,
      "labelOffset": 6, "labelFont": "Lato", "labelFontSize": 37, "labelColor": "#595959", "labelLimit": 600, "padding": 0}},
  "strokeDash": {"field": "series", "type": "nominal",
    "scale": {"domain": ["S&P 500 Index", "Healthcare", "Biotechnology", "Consumer Staples", "Utilities", "Healthcare Average"],
      "range": [[1, 0], [1, 0], [1, 0], [1, 0], [1, 0], [18, 14]]},
    "legend": {"title": null, "orient": "none", "legendX": 170, "legendY": -175, "direction": "horizontal", "columns": 3, "gridAlign": "all",
      "columnPadding": 25, "rowPadding": 41, "clipHeight": 30, "symbolType": "stroke", "symbolSize": 13456, "symbolStrokeWidth": 7,
      "labelOffset": 6, "labelFont": "Lato", "labelFontSize": 37, "labelColor": "#595959", "labelLimit": 600, "padding": 0}}
}
}
